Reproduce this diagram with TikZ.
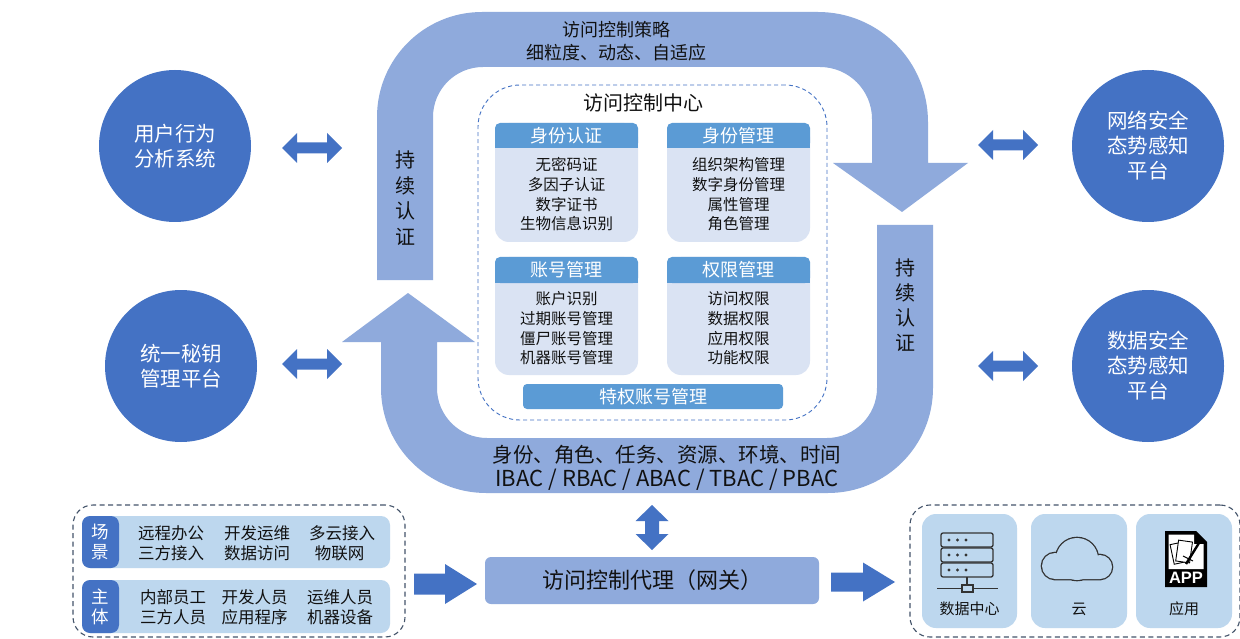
\documentclass[tikz,border=0pt]{standalone}
\usepackage{fontspec}
\setmainfont{Noto Sans CJK SC}
\newfontfamily\appfont{Liberation Sans}
\usetikzlibrary{calc}

\definecolor{band}{HTML}{8FAADC}
\definecolor{deep}{HTML}{4472C4}
\definecolor{hdr}{HTML}{5B9BD5}
\definecolor{pale}{HTML}{DAE3F3}
\definecolor{sky}{HTML}{BDD7EE}
\definecolor{slate}{HTML}{44546A}
\definecolor{ink}{HTML}{111111}
\definecolor{icon}{HTML}{333333}

\newcommand\fsz[2]{\fontsize{#1}{#2}\selectfont}

% one module of the access control centre: body, title bar, item list
% #1 name, #2 centre x, #3 top y, #4 title bar bottom y, #5 bottom y, #6 title, #7 items
\newcommand\module[7]{%
  \node[bodybox, minimum height={(#5-#3)*1pt}] (#1) at (#2,{(#3+#5)/2}) {};
  \fill[hdr] (#2-71.5,#4-8) rectangle (#2+71.5,#4);
  \node[hdrbox, minimum height={(#4-#3)*1pt}] (#1h) at (#2,{(#3+#4)/2}) {#6};
  \node[itemtxt] (#1i) at (#2,{(#4+#5)/2-0.5}) {#7};
}

\begin{document}
\begin{tikzpicture}[x=1pt, y=-1pt,
  txt/.style={inner sep=0pt, align=center, text=ink},
  circ/.style={circle, fill=deep, minimum size=152pt, inner sep=0pt, text=white,
    align=center, font=\fsz{20.5pt}{25pt}},
  bodybox/.style={fill=pale, rounded corners=14pt, minimum width=143pt, inner sep=0pt},
  hdrbox/.style={fill=hdr, rounded corners=5pt, minimum width=143pt, inner sep=0pt,
    text=white, font=\fsz{18pt}{20pt}},
  itemtxt/.style={txt, font=\fsz{15.5pt}{19.7pt}},
  blk/.style={fill=deep},
  dashbox/.style={draw=slate, dash pattern=on 5pt off 3.5pt, line width=1.1pt,
    rounded corners=20pt, inner sep=0pt},
  bar/.style={fill=sky, rounded corners=9pt, inner sep=0pt, minimum width=308pt},
  tag/.style={fill=deep, rounded corners=8pt, inner sep=0pt, text=white, align=center,
    font=\fsz{17.5pt}{20pt}, minimum width=37pt},
  cell/.style={txt, font=\fsz{16.5pt}{20pt}},
  tile/.style={fill=sky, rounded corners=14pt, inner sep=0pt, minimum height=114pt},
  glyph/.style={draw=icon, line width=1.3pt},
]
\useasboundingbox (0,0) rectangle (1240,639);
\fill[white] (0,0) rectangle (1240,639);

% ---- upper band: policy arrow running clockwise and pointing down on the right
\fill[band] (377,280) -- (377,117) .. controls (377,59) and (424,12) .. (482,12)
  -- (818,12) .. controls (878.75,12) and (928,61.25) .. (928,122)
  -- (928,163) -- (968,163) -- (902,212) -- (833,163) -- (872,163)
  -- (872,119) .. controls (872,90.3) and (848.7,67) .. (820,67)
  -- (483,67) .. controls (455.4,67) and (433,89.4) .. (433,117) -- (433,280) -- cycle;

% ---- lower band: model arrow running clockwise and pointing up on the left
\fill[band] (877,225) -- (933,225) -- (933,388) .. controls (933,446) and (886,493) .. (828,493)
  -- (486,493) .. controls (428,493) and (381,446) .. (381,388)
  -- (381,342) -- (342,342) -- (408,293) -- (475,342) -- (437,342)
  -- (437,388) .. controls (437,415.6) and (459.4,438) .. (487,438)
  -- (827,438) .. controls (854.6,438) and (877,415.6) .. (877,388) -- cycle;

% ---- texts on the bands
\node[txt, font=\fsz{18pt}{23pt}] (policy) at (616,41.5) {访问控制策略\\细粒度、动态、自适应};
\node[txt, font=\fsz{20.5pt}{25pt}] (models) at (667,455) {身份、角色、任务、资源、环境、时间};
\node[txt, font=\fsz{22pt}{25pt}] (modelsabbr) at (667,480) {IBAC / RBAC / ABAC / TBAC / PBAC};
\node[txt, font=\fsz{20pt}{25.5pt}] (authL) at (405,198) {持\\续\\认\\证};
\node[txt, font=\fsz{20pt}{25pt}] (authR) at (905,305.5) {持\\续\\认\\证};

% ---- access control centre
\node[draw=deep, dash pattern=on 4pt off 3pt, line width=0.9pt, rounded corners=42pt,
  minimum width=349pt, minimum height=335pt, inner sep=0pt] (acc) at (652.5,252.5) {};
\node[txt, font=\fsz{20pt}{24pt}] (acctitle) at (643,103) {访问控制中心};

\module{idauth}{566.5}{123}{148}{242}{身份认证}{无密码证\\多因子认证\\数字证书\\生物信息识别}
\module{idmgmt}{738.5}{123}{148}{242}{身份管理}{组织架构管理\\数字身份管理\\属性管理\\角色管理}
\module{acctm}{566.5}{257}{283}{375}{账号管理}{账户识别\\过期账号管理\\僵尸账号管理\\机器账号管理}
\module{perm}{738.5}{257}{283}{375}{权限管理}{访问权限\\数据权限\\应用权限\\功能权限}
\node[fill=hdr, rounded corners=4pt, minimum width=260pt, minimum height=25pt, inner sep=0pt,
  text=white, font=\fsz{18pt}{20pt}] (priv) at (653,396.5) {特权账号管理};

% ---- side platforms
\node[circ] (uba) at (175,146) {用户行为\\分析系统};
\node[circ] (kms) at (181,366) {统一秘钥\\管理平台};
\node[circ] (nsa) at (1148,146) {网络安全\\态势感知\\平台};
\node[circ] (dsa) at (1148,366) {数据安全\\态势感知\\平台};

% ---- two-way block arrows between platforms and the bands
\coordinate (ubaL) at (282,148);
\coordinate (kmsL) at (282,364);
\coordinate (nsaL) at (978,145);
\coordinate (dsaL) at (978,366);
\foreach \c in {ubaL,kmsL,nsaL,dsaL}
  \fill[blk, shift={(\c)}] (0,0) -- (15,-15) -- (15,-5.5) -- (45,-5.5) -- (45,-15) -- (60,0)
    -- (45,15) -- (45,5.5) -- (15,5.5) -- (15,15) -- cycle;

% ---- gateway
\node[fill=band, rounded corners=6pt, minimum width=334pt, minimum height=47pt, inner sep=0pt,
  text=ink, font=\fsz{22pt}{24pt}] (gw) at (652,580.5) {访问控制代理（网关）};
\coordinate (gwUp) at (652,505);
\fill[blk, shift={(gwUp)}] (0,0) -- (16.5,16) -- (7,16) -- (7,29) -- (16.5,29) -- (0,45)
  -- (-16.5,29) -- (-7,29) -- (-7,16) -- (-16.5,16) -- cycle;
\coordinate (inArr) at (414,584);
\fill[blk, shift={(inArr)}] (0,-10.5) -- (31,-10.5) -- (31,-20) -- (63,0) -- (31,20)
  -- (31,10.5) -- (0,10.5) -- cycle;
\coordinate (outArr) at (831,582);
\fill[blk, shift={(outArr)}] (0,-9.5) -- (32,-9.5) -- (32,-19.5) -- (64,0) -- (32,19.5)
  -- (32,9.5) -- (0,9.5) -- cycle;

% ---- scenarios and subjects
\node[dashbox, minimum width=332pt, minimum height=132pt] (who) at (239,571) {};
\node[bar, minimum height=52pt] (scn) at (236,542) {};
\node[tag, minimum height=52pt] (scntag) at (100.5,542) {场\\景};
\node[bar, minimum height=53pt] (sub) at (236,606.5) {};
\node[tag, minimum height=53pt] (subtag) at (100.5,606.5) {主\\体};
\foreach \t/\x/\y [count=\i] in {远程办公/171/533, 开发运维/257/533, 多云接入/342/533,
    三方接入/171/553, 数据访问/257/553, 物联网/339.5/553,
    内部员工/173/597, 开发人员/254.5/597, 运维人员/340/597,
    三方人员/173/617, 应用程序/254.5/617, 机器设备/340/617}
  \node[cell] (cell\i) at (\x,\y) {\t};

% ---- protected resources
\node[dashbox, minimum width=330pt, minimum height=132pt] (res) at (1075,571) {};
\node[tile, minimum width=95pt] (dc) at (969.5,571) {};
\node[tile, minimum width=96pt] (cloud) at (1079,571) {};
\node[tile, minimum width=96pt] (app) at (1184,571) {};
\node[txt, font=\fsz{15pt}{17pt}] (dct) at (969.5,609) {数据中心};
\node[txt, font=\fsz{15pt}{17pt}] (cloudt) at (1079,609) {云};
\node[txt, font=\fsz{15pt}{17pt}] (appt) at (1184,609) {应用};

% server rack icon
\foreach \k in {0,1,2} {
  \draw[glyph, rounded corners=2pt] (941,533+15*\k) rectangle (993,547+15*\k);
  \foreach \dx in {949,957.5,966}
    \fill[icon] (\dx,540+15*\k) circle[radius=1.6pt];
}
\draw[glyph] (967,577) -- (967,585);
\draw[glyph] (962,585) rectangle (973,592);
\draw[glyph] (937,588.5) -- (962,588.5) (973,588.5) -- (998,588.5);

% cloud icon: outline of a union of lobes
\draw[icon, line width=2.6pt] (1055,566) circle[radius=13pt] (1077,559) circle[radius=21pt]
  (1100,567) circle[radius=12pt] (1055,566) rectangle (1100,579);
\fill[sky] (1055,566) circle[radius=13pt] (1077,559) circle[radius=21pt]
  (1100,567) circle[radius=12pt] (1055,566) rectangle (1100,579);

% app file icon
\fill[black] (1165,531) -- (1196,531) -- (1207,542) -- (1207,587) -- (1165,587) -- cycle;
\fill[white] (1168.5,534.5) -- (1194,534.5) -- (1194,544) -- (1203.5,544) -- (1203.5,569)
  -- (1168.5,569) -- cycle;
\draw[black, line width=0.9pt, fill=white, rotate around={12:(1179,553)}] (1172,543) rectangle (1186,563);
\draw[black, line width=0.9pt, fill=white, rotate around={-8:(1184,552)}] (1177,541) rectangle (1191,562);
\draw[black, line width=2.4pt] (1186,564) -- (1199,543);
\draw[black, line width=1pt] (1183,556) -- (1193,561);
\node[inner sep=0pt, text=white, font=\appfont\bfseries\fsz{16.5pt}{17pt}] (apptag) at (1186,577.5) {APP};
\end{tikzpicture}
\end{document}
